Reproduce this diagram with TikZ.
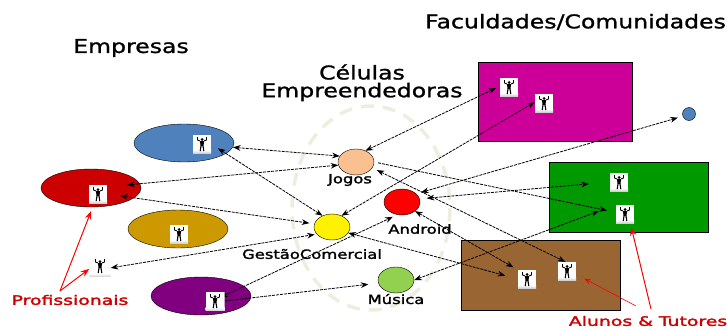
\documentclass[tikz,border=0pt]{standalone}
\usepackage{fontspec}
\setmainfont{DejaVu Sans}
\newfontfamily\largo[FakeStretch=1.24,FakeBold=1.2]{DejaVu Sans}
\newfontfamily\largob[FakeStretch=1.3,FakeBold=2]{DejaVu Sans}
\newfontfamily\largoc[FakeStretch=1.45,FakeBold=2.2]{DejaVu Sans}
\usepackage{xcolor}
\usetikzlibrary{arrows.meta,shapes.geometric}
\definecolor{azul}{HTML}{4F81BD}
\definecolor{vermelho}{HTML}{CC0000}
\definecolor{ouro}{HTML}{CC9900}
\definecolor{roxo}{HTML}{800080}
\definecolor{pessego}{HTML}{FAC090}
\definecolor{verdeclaro}{HTML}{92D050}
\definecolor{magenta2}{HTML}{CC0099}
\definecolor{verde}{HTML}{009900}
\definecolor{marrom}{HTML}{996633}
\definecolor{bege}{HTML}{EEEEE0}
\pgfdeclarelayer{fundo}
\pgfdeclarelayer{meio}
\pgfsetlayers{fundo,meio,main}
\tikzset{
  empresa/.style={ellipse,draw=black,fill=#1,minimum width=100pt,minimum height=38pt,inner sep=0pt},
  celula/.style={ellipse,draw=black,fill=#1,minimum width=36pt,minimum height=26pt,inner sep=0pt},
  bloco/.style={rectangle,draw=black,line width=0.8pt,fill=#1,inner sep=0pt},
  link/.style={line width=0.8pt,dash pattern=on 3pt off 1pt},
  seta/.style={red,line width=1pt},
  titulo/.style={font=\largo\fontsize{19}{20}\selectfont,inner sep=0pt},
  rotulo/.style={font=\largob\fontsize{12.6}{14}\selectfont,inner sep=0pt},
  destaque/.style={font=\largoc\fontsize{13}{14}\selectfont,text=vermelho,inner sep=0pt},
  pessoa/.style={rectangle,minimum size=#1,inner sep=0pt,path picture={
    \fill[white] (path picture bounding box.north west) rectangle (path picture bounding box.south east);
    \shade[top color=white,bottom color=gray!35] ([yshift=3pt]path picture bounding box.south west) rectangle (path picture bounding box.south east);
    \begin{scope}[shift={(path picture bounding box.center)},x=1pt,y=-1pt]
      \fill[black] (0,-4.5) circle[radius=1.5];
      \fill[black] (-2,-3) -- (2,-3) -- (1.5,2) -- (-1.5,2) -- cycle;
      \draw[black,line width=0.9pt] (-2,-3) -- (-4.5,-4) -- (-4.5,-7);
      \draw[black,line width=0.9pt] (2,-3) -- (4.5,-4) -- (4.5,-7);
      \draw[black,line width=1.1pt] (-1,2) -- (-1.8,7);
      \draw[black,line width=1.1pt] (1,2) -- (1.8,7);
    \end{scope}}},
  pessoa/.default=18pt
}
\begin{document}
\begin{tikzpicture}[x=1pt,y=-1pt,>={Stealth[scale=1.15]}]
  \useasboundingbox (0,0) rectangle (727,329);
  \begin{pgfonlayer}{fundo}
    % celulas
    \draw[bege,line width=3.5pt,dash pattern=on 13pt off 9pt] (371,208) ellipse[x radius=79,y radius=102];
    % faculdades
    \node[bloco=magenta2,minimum width=154pt,minimum height=79pt] (facMagenta) at (555,101.5) {};
    \node[bloco=verde,minimum width=159pt,minimum height=70pt] (facVerde) at (628.5,197) {};
    \node[bloco=marrom,minimum width=159pt,minimum height=70pt] (facMarrom) at (540.5,275) {};
    % empresas
    \node[empresa=azul] (empAzul) at (184,143) {};
    \node[empresa=vermelho] (empVermelho) at (91,188) {};
    \node[empresa=ouro] (empOuro) at (178,229) {};
    \node[empresa=roxo] (empRoxo) at (201,296) {};
  \end{pgfonlayer}
  \node[circle,draw=black,fill=azul,minimum size=13pt,inner sep=0pt] (ptAzul) at (689,114) {};
  % celulas
  \node[celula=pessego] (jogos) at (356,162) {};
  \node[celula=red] (android) at (402,202) {};
  \node[celula=yellow] (gestao) at (332,227) {};
  \node[celula=verdeclaro] (musica) at (396,280) {};
  % pessoas
  \node[pessoa] (pAzul) at (202,144) {};
  \node[pessoa] (pVermelho) at (98,194) {};
  \node[pessoa] (pOuro) at (179,234) {};
  \node[pessoa=21pt] (pSolto) at (100,266) {};
  \node[pessoa=19pt] (pRoxo) at (215,301) {};
  \node[pessoa] (pMag) at (509,87) {};
  \node[pessoa] (pMagB) at (544,103) {};
  \node[pessoa] (pVerde) at (619,182) {};
  \node[pessoa] (pVerdeB) at (625,214) {};
  \node[pessoa] (pMarrom) at (527,279) {};
  \node[pessoa] (pMarromB) at (567,271) {};
  % ligacoes
  \begin{pgfonlayer}{meio}
    \draw[link,<->] (empAzul.-5) -- (jogos.160);
    \draw[link,<->,shorten <=-13pt] (empVermelho.5) -- (jogos.190);
    \draw[link,<->,shorten <=8pt] (pAzul.east) -- (gestao.130);
    \draw[link,<->,shorten <=13pt,shorten >=5pt] (pVermelho.east) -- (gestao.170);
    \draw[link,<->,shorten >=2pt] (pSolto.-10) -- (gestao.205);
    \draw[link,<->,shorten <=-5pt,shorten >=5pt] (pRoxo.30) -- (android.250);
    \draw[link,<->,shorten <=-9pt,shorten >=10pt] (pRoxo.east) -- (musica.190);
    \draw[link,<->,shorten >=4pt] (jogos.50) -- (pMag.175);
    \draw[link,<->] (gestao.50) -- (pMagB.175);
    \draw[link,<->,shorten <=5pt,shorten >=5pt] (android.30) -- (ptAzul.200);
    \draw[link,<->,shorten <=7pt,shorten >=21pt] (android.10) -- (pVerde.west);
    \draw[link,->,shorten <=4pt,shorten >=9pt] (jogos.east) -- (pVerdeB.170);
    \draw[link,<->,shorten <=5pt] (jogos.-20) -- (pMarromB.100);
    \draw[link,<->,shorten >=5pt] (android.-35) -- (pMarrom.135);
    \draw[link,<->,shorten >=13pt] (gestao.-20) -- (pMarrom.west);
    \draw[link,<->,shorten >=18pt] (musica.east) -- (pVerdeB.135);
  \end{pgfonlayer}
  % textos
  \node[titulo] (tFac) at (575.5,22) {Faculdades/Comunidades};
  \node[titulo] (tEmp) at (131,48) {Empresas};
  \node[titulo] (tCel) at (362,72) {Células};
  \node[titulo] (tCelB) at (362,92) {Empreendedoras};
  \node[rotulo] (lJogos) at (350,180) {Jogos};
  \node[rotulo] (lAndroid) at (420,229) {Android};
  \node[rotulo] (lGestao) at (312,254) {GestãoComercial};
  \node[rotulo] (lMusica) at (396,299) {Música};
  \node[destaque] (lProf) at (70,300) {Profissionais};
  \node[destaque] (lAlunos) at (648,321) {Alunos \& Tutores};
  % setas vermelhas
  \coordinate (caudaProf) at (60,291);
  \coordinate (caudaAlunos) at (651,309);
  \coordinate (caudaAlunosB) at (636,306);
  \draw[seta,->,shorten >=4pt] (caudaProf) -- (empVermelho.-85);
  \draw[seta,->] (caudaProf) -- (pSolto.195);
  \draw[seta,->,shorten >=4pt] (caudaAlunos) -- (pVerdeB.-60);
  \draw[seta,->,line width=0.6pt,shorten >=9pt] (caudaAlunosB) -- (pMarromB.-20);
\end{tikzpicture}
\end{document}
